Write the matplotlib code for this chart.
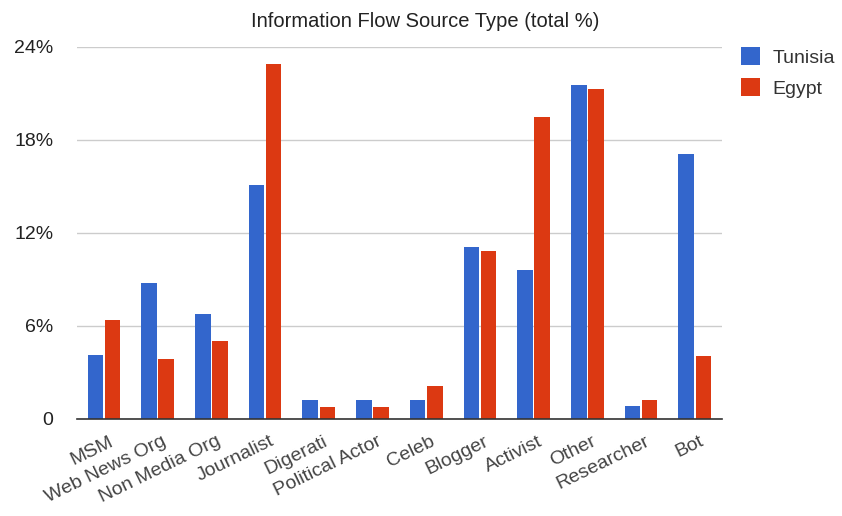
import numpy as np
import matplotlib.pyplot as plt

plt.rcParams['font.family'] = ['Liberation Sans', 'DejaVu Sans']

categories = ['MSM', 'Web News Org', 'Non Media Org', 'Journalist', 'Digerati',
              'Political Actor', 'Celeb', 'Blogger', 'Activist', 'Other',
              'Researcher', 'Bot']
tunisia = [4.1, 8.75, 6.75, 15.1, 1.23, 1.23, 1.23, 11.07, 9.58, 21.5, 0.86, 17.1]
egypt = [6.4, 3.87, 5.0, 22.9, 0.76, 0.76, 2.14, 10.8, 19.46, 21.27, 1.21, 4.09]
yticks = [0, 6, 12, 18, 24]
ytick_labels = ['0', '6%', '12%', '18%', '24%']

fig = plt.figure(figsize=(8.42, 5.16), dpi=100)
ax = fig.add_axes([0.0915, 0.188, 0.7655, 0.7215])

x = np.arange(len(categories))
w = 0.29
ax.bar(x - w / 2 - 0.015, tunisia, w, color='#3366CC', label='Tunisia', zorder=3)
ax.bar(x + w / 2 + 0.015, egypt, w, color='#DC3912', label='Egypt', zorder=3)

ax.set_xlim(-0.5, len(categories) - 0.5)
ax.set_ylim(0, 24)
ax.set_yticks(yticks)
ax.set_yticklabels(ytick_labels, fontsize=14, color='#222222')
ax.yaxis.grid(True, color='#cccccc', linewidth=1, zorder=0)
ax.tick_params(axis='y', length=0, pad=17)
ax.tick_params(axis='x', length=0, pad=10)
ax.set_xticks(x + 0.08)
ax.set_xticklabels(categories, rotation=26, ha='right', rotation_mode='anchor',
                   fontsize=14, color='#444444')

for s in ['top', 'right', 'left']:
    ax.spines[s].set_visible(False)
ax.spines['bottom'].set_color('#333333')
ax.spines['bottom'].set_linewidth(1.2)
ax.spines['bottom'].set_zorder(4)

fig.suptitle('Information Flow Source Type (total %)', x=0.505, y=0.977,
             fontsize=14.5, color='#222222')

ax.legend(loc='upper left', bbox_to_anchor=(1.003, 1.045), frameon=False,
          fontsize=14, handlelength=1.0, handleheight=1.0, handletextpad=0.6,
          labelspacing=0.6, labelcolor='#333333')

fig.savefig('out.png', dpi=100)
